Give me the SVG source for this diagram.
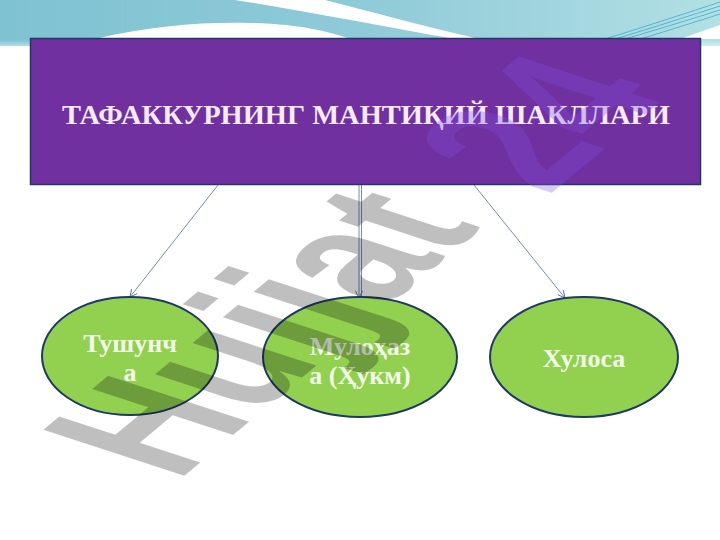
<svg xmlns="http://www.w3.org/2000/svg" width="720" height="540" viewBox="0 0 720 540">
<defs>
<linearGradient id="sky" x1="0" y1="0" x2="1" y2="0">
<stop offset="0" stop-color="#7fc2d2"/>
<stop offset="0.5" stop-color="#8fcad8"/>
<stop offset="1" stop-color="#b2e0e4"/>
</linearGradient>
<linearGradient id="fade" x1="0" y1="0" x2="0" y2="1">
<stop offset="0" stop-color="#ffffff" stop-opacity="0"/>
<stop offset="1" stop-color="#ffffff" stop-opacity="1"/>
</linearGradient>
<marker id="arr" viewBox="0 0 10 10" refX="9" refY="5" markerWidth="9" markerHeight="9" orient="auto" markerUnits="userSpaceOnUse">
<path d="M1,1 L9,5 L1,9" fill="none" stroke="#4f6fa8" stroke-width="1"/>
</marker>
<style>
.conn{stroke:#4f6fa8;stroke-width:0.8;fill:none}
.node ellipse{fill:#92d050;stroke:#1f3864;stroke-width:2}
.lbl{font-family:"Liberation Serif","DejaVu Serif",serif;font-weight:bold;font-size:26px;fill:#f2fbe8;text-anchor:middle}
.hdr{font-family:"Liberation Serif","DejaVu Serif",serif;font-weight:bold;font-size:28px;fill:#f6eaff}
.wm{font-family:"Liberation Sans","DejaVu Sans",sans-serif;font-weight:bold;font-size:100px}
</style>
</defs>
<rect x="0" y="0" width="720" height="540" fill="#ffffff"/>
<g id="background">
<rect x="0" y="0" width="720" height="46" fill="url(#sky)"/>
<rect x="0" y="40" width="720" height="14" fill="url(#fade)"/>
<path d="M95,39 C150,26 200,22 250,23 C300,24 330,32 350,39 Z" fill="#ffffff"/>
<path d="M235,0 L325,0 C380,14 430,28 480,39 L455,39 C380,26 300,10 235,0 Z" fill="#ffffff"/>
<path d="M680,39 L720,25 L720,39 Z" fill="#ffffff"/>
<g stroke="#3ea9cc" stroke-width="0.8" fill="none">
<path d="M605,39 C650,25 690,12 720,2"/>
<path d="M615,39 C655,27 692,15 720,6"/>
<path d="M625,39 C662,28 695,18 720,10"/>
<path d="M640,39 C670,30 698,21 720,14"/>
</g>
</g>
<g id="header">
<rect x="30.5" y="38.5" width="670" height="146" fill="#7030a0" stroke="#203864" stroke-width="1.5"/>
<text class="hdr" x="62" y="124" textLength="608" lengthAdjust="spacingAndGlyphs">ТАФАККУРНИНГ МАНТИҚИЙ ШАКЛЛАРИ</text>
</g>
<g id="connectors">
<line class="conn" x1="218" y1="185" x2="130" y2="297" marker-end="url(#arr)"/>
<line class="conn" x1="359" y1="185" x2="359" y2="298" marker-end="url(#arr)"/>
<line class="conn" x1="361.5" y1="185" x2="361.5" y2="298"/>
<line class="conn" x1="474" y1="185" x2="565" y2="298" marker-end="url(#arr)"/>
</g>
<g id="node-tushuncha" class="node">
<ellipse cx="130" cy="356" rx="88" ry="59"/>
<text class="lbl" x="130" y="352">Тушунч</text>
<text class="lbl" x="130" y="381">а</text>
</g>
<g id="node-mulohaza" class="node">
<ellipse cx="360" cy="357" rx="97" ry="60"/>
<text class="lbl" x="360" y="355">Мулоҳаз</text>
<text class="lbl" x="360" y="384">а (Ҳукм)</text>
</g>
<g id="node-xulosa" class="node">
<ellipse cx="584" cy="357" rx="94" ry="60"/>
<text class="lbl" x="584" y="367">Хулоса</text>
</g>
<g id="watermark">
<text class="wm" transform="matrix(1.1,-0.92,2.05,0.67,177,482)" fill="#000000" fill-opacity="0.25">Hujjat</text>
<text class="wm" transform="matrix(1.1,-0.92,2.05,0.67,548,196)" fill="#8050e0" fill-opacity="0.3">24</text>
</g>
</svg>
